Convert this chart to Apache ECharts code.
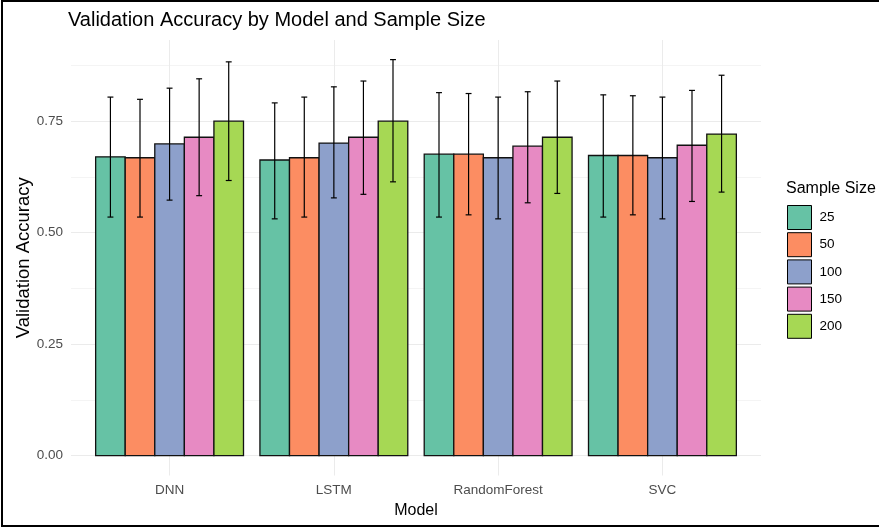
<!DOCTYPE html>
<html>
<head>
<meta charset="utf-8">
<script src="https://cdn.jsdelivr.net/npm/echarts@6/dist/echarts.min.js"></script>
<style>html,body{margin:0;padding:0;background:#fff}#c{width:879px;height:528px}</style>
</head>
<body>
<div id="c"></div>
<script>
const models = ['DNN', 'LSTM', 'RandomForest', 'SVC'];
const sampleSizes = ['25', '50', '100', '150', '200'];
// mean accuracy per sample size, one value per model
const mean25  = [0.670, 0.663, 0.676, 0.673];
const mean50  = [0.668, 0.668, 0.676, 0.673];
const mean100 = [0.699, 0.701, 0.668, 0.668];
const mean150 = [0.714, 0.714, 0.694, 0.696];
const mean200 = [0.750, 0.750, 0.714, 0.721];
// error bar lower ends
const low25  = [0.535, 0.531, 0.535, 0.535];
const low50  = [0.535, 0.535, 0.540, 0.540];
const low100 = [0.573, 0.578, 0.531, 0.531];
const low150 = [0.583, 0.586, 0.567, 0.570];
const low200 = [0.617, 0.614, 0.588, 0.591];
// error bar upper ends
const high25  = [0.804, 0.791, 0.814, 0.809];
const high50  = [0.799, 0.804, 0.812, 0.807];
const high100 = [0.824, 0.827, 0.804, 0.804];
const high150 = [0.845, 0.840, 0.816, 0.819];
const high200 = [0.883, 0.888, 0.840, 0.853];
const yTicks = [0, 0.25, 0.5, 0.75];
const yMinorTicks = [0.125, 0.375, 0.625, 0.875];

const means = [mean25, mean50, mean100, mean150, mean200];
const lows = [low25, low50, low100, low150, low200];
const highs = [high25, high50, high100, high150, high200];
const colors = ['#66C2A5', '#FC8D62', '#8DA0CB', '#E78AC3', '#A6D854'];
const FONT = "'Liberation Sans', Arial, sans-serif";

const dodge = 0.9, nG = sampleSizes.length, bw = dodge / nG;
const series = sampleSizes.map((s, j) => ({
  name: s,
  type: 'custom',
  clip: false,
  encode: { x: 0, y: 1 },
  itemStyle: { color: colors[j], borderColor: '#000', borderWidth: 1 },
  data: models.map((m, i) => [i + 1, means[j][i], lows[j][i], highs[j][i]]),
  renderItem: function (params, api) {
    const x = api.value(0), v = api.value(1), lo = api.value(2), hi = api.value(3);
    const x0 = x - dodge / 2 + j * bw, x1 = x0 + bw, xc = x0 + bw / 2;
    const p0 = api.coord([x0, 0]), p1 = api.coord([x1, v]);
    const a = api.coord([xc, lo]), b = api.coord([xc, hi]);
    const capL = api.coord([xc - bw * 0.1, hi])[0], capR = api.coord([xc + bw * 0.1, hi])[0];
    const ls = { stroke: '#000', lineWidth: 1.2 };
    return {
      type: 'group',
      children: [
        { type: 'rect', shape: { x: p0[0], y: p1[1], width: p1[0] - p0[0], height: p0[1] - p1[1] },
          style: { fill: colors[j], stroke: '#111', lineWidth: 1.3 } },
        { type: 'line', shape: { x1: a[0], y1: a[1], x2: b[0], y2: b[1] }, style: ls },
        { type: 'line', shape: { x1: capL, y1: b[1], x2: capR, y2: b[1] }, style: ls },
        { type: 'line', shape: { x1: capL, y1: a[1], x2: capR, y2: a[1] }, style: ls }
      ]
    };
  }
}));

const yMin = -0.0444, yMax = 0.932;
const chart = echarts.init(document.getElementById('c'), null, { renderer: 'canvas' });
chart.setOption({
  animation: false,
  backgroundColor: '#fff',
  color: colors,
  textStyle: { fontFamily: FONT },
  title: [
    { text: 'Validation Accuracy by Model and Sample Size', left: 68, top: 10, padding: 0,
      textStyle: { fontFamily: FONT, fontSize: 20, fontWeight: 'normal', color: '#000' } },
    { text: 'Sample Size', left: 786, top: 181, padding: 0,
      textStyle: { fontFamily: FONT, fontSize: 16, fontWeight: 'normal', color: '#000' } }
  ],
  legend: {
    orient: 'vertical', left: 787, top: 205, padding: 0,
    itemWidth: 24, itemHeight: 24, itemGap: 2.2, icon: 'rect',
    itemStyle: { borderColor: '#000', borderWidth: 1 },
    textStyle: { fontFamily: FONT, fontSize: 13.5, color: '#000', padding: [0, 0, 0, 3] },
    data: sampleSizes
  },
  grid: { left: 71, width: 690, top: 40, height: 435.5, containLabel: false },
  xAxis: {
    type: 'value', min: 0.4, max: 4.6,
    name: 'Model', nameLocation: 'middle', nameGap: 26,
    nameTextStyle: { fontFamily: FONT, fontSize: 16, color: '#000' },
    axisLine: { show: false },
    axisTick: { show: false, customValues: [1, 2, 3, 4] },
    axisLabel: { customValues: [1, 2, 3, 4], formatter: v => models[Math.round(v) - 1],
      fontFamily: FONT, fontSize: 13.5, color: '#4d4d4d', margin: 8 },
    splitLine: { show: true, lineStyle: { color: '#ebebeb', width: 1 } }
  },
  yAxis: [
    {
      type: 'value', min: yMin, max: yMax,
      name: 'Validation Accuracy', nameLocation: 'middle', nameGap: 38, nameRotate: 90,
      nameMoveOverlap: false,
      nameTextStyle: { fontFamily: FONT, fontSize: 18.5, color: '#000' },
      axisLine: { show: false },
      axisTick: { show: false, customValues: yTicks },
      axisLabel: { customValues: yTicks, formatter: v => v.toFixed(2),
        fontFamily: FONT, fontSize: 13.5, color: '#4d4d4d', margin: 8 },
      splitLine: { show: true, lineStyle: { color: '#ebebeb', width: 1 } }
    },
    {
      type: 'value', min: yMin, max: yMax, position: 'left',
      axisLine: { show: false },
      axisTick: { show: false, customValues: yMinorTicks },
      axisLabel: { show: false, customValues: yMinorTicks },
      splitLine: { show: true, lineStyle: { color: '#f4f4f4', width: 1 } }
    }
  ],
  graphic: [
    { type: 'rect', shape: { x: 2, y: 1, width: 900, height: 525 }, z: 100,
      style: { fill: null, stroke: '#000', lineWidth: 2 }, silent: true }
  ],
  series: series
});
</script>
</body>
</html>
